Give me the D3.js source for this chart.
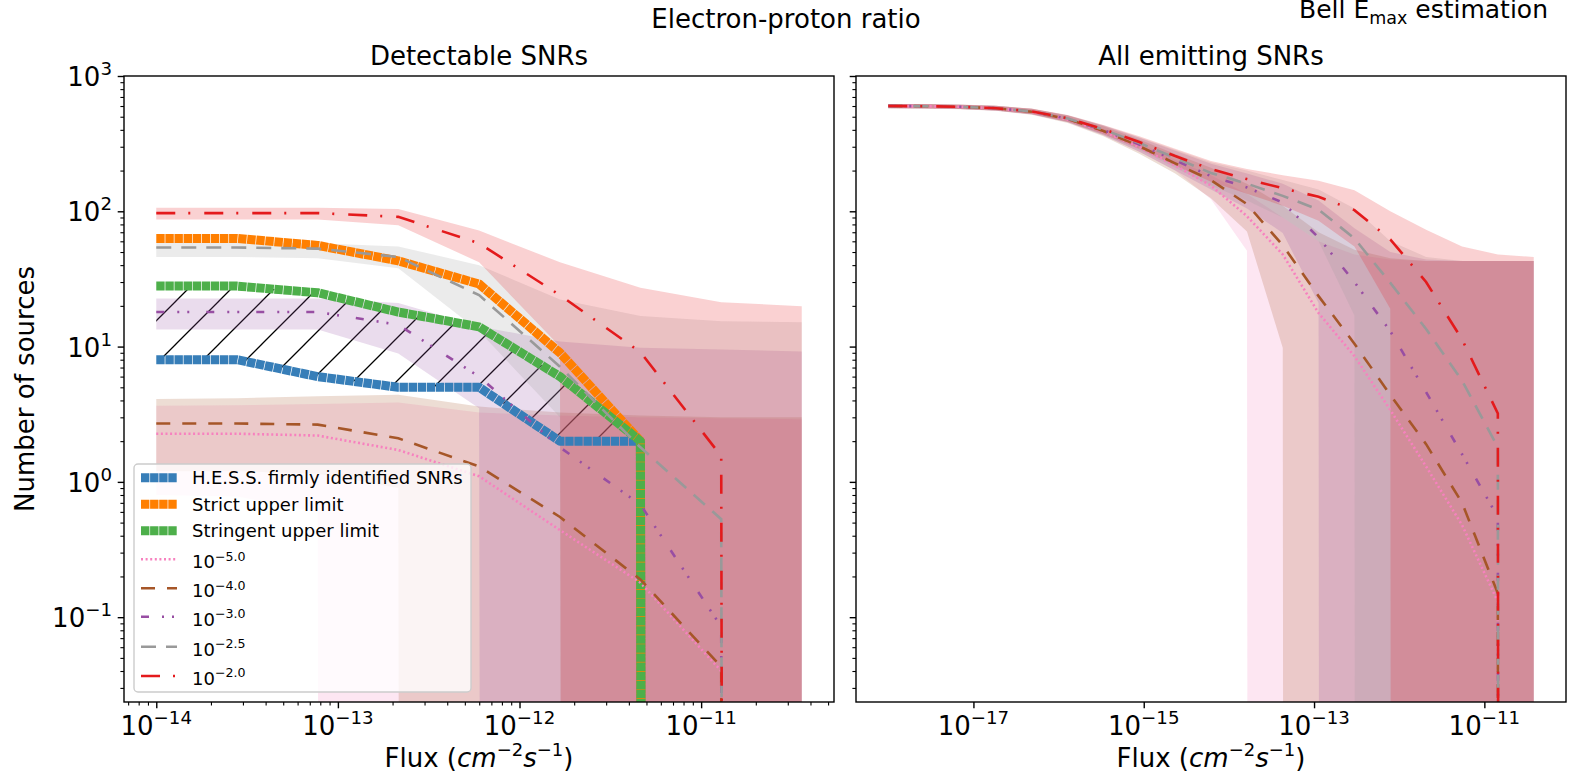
<!DOCTYPE html>
<html>
<head>
<meta charset="utf-8">
<script src="https://cdn.jsdelivr.net/npm/d3@7"></script>
<style>
body { margin: 0; background: #fff; }
text { font-family: "DejaVu Sans", sans-serif; fill: #000; }
</style>
</head>
<body>
<svg id="chart" width="1572" height="776"></svg>
<script>
// ---- data: detectable SNRs (left panel) ----
var fluxLeft = [1.00e-14, 2.78e-14, 7.74e-14, 2.15e-13, 5.99e-13, 1.67e-12, 4.63e-12, 1.29e-11, 3.58e-11];
var hess = [8, 8, 6, 5, 5, 2, 2, 0, 0];
var strictUL = [63, 63, 56, 43, 29, 9, 2, 0, 0];
var stringentUL = [28, 28, 25, 18, 14, 6, 2, 0, 0];

// model order: 1e-5, 1e-4, 1e-3, 1e-2.5, 1e-2
var detMean = [
  [2.27, 2.27, 2.2, 1.72, 1.1, 0.44, 0.18, 0.04, 0],
  [2.7, 2.7, 2.65, 2.1, 1.3, 0.55, 0.19, 0.043, 0],
  [18, 18, 18, 14.5, 6.0, 1.8, 0.68, 0.085, 0],
  [54, 54, 53, 46, 24, 7.1, 1.8, 0.53, 0],
  [97, 97, 97, 91, 58, 24, 9.1, 1.55, 0]
];
var detLow = [
  [0.8, 0.78, 0.6, 0, 0, 0, 0, 0, 0],
  [1.2, 1.2, 1.15, 0.9, 0, 0, 0, 0, 0],
  [13.4, 13.4, 13.4, 8.9, 3.5, 0, 0, 0, 0],
  [46, 46, 45, 38, 13, 3, 0, 0, 0],
  [87, 87, 87, 79, 42, 10, 0, 0, 0]
];
var detHigh = [
  [3.65, 3.68, 3.77, 3.86, 3.25, 3.1, 3.0, 2.95, 2.9],
  [4.1, 4.15, 4.3, 4.4, 3.6, 3.25, 3.1, 3.0, 3.0],
  [22.7, 22.7, 22.7, 21, 14.1, 10.9, 9.8, 9.5, 9.2],
  [58.6, 58.6, 58, 55, 40, 22.3, 16.8, 15.4, 15.1],
  [106, 106, 106, 104, 72, 42, 27.2, 21.3, 19.9]
];

// ---- data: all emitting SNRs (right panel) ----
var fluxRight = [1.00e-18, 2.64e-18, 6.96e-18, 1.84e-17, 4.84e-17, 1.28e-16, 3.36e-16, 8.87e-16, 2.34e-15,
  6.16e-15, 1.63e-14, 4.29e-14, 1.13e-13, 2.98e-13, 7.86e-13, 2.07e-12, 5.47e-12, 1.44e-11, 3.80e-11];
var allMean = [
  [600, 598, 592, 578, 544, 478, 388, 298, 218, 155, 92, 48, 17.7, 8.5, 3.4, 1.3, 0.48, 0.13, 0],
  [600, 598, 592, 578, 545, 480, 392, 303, 226, 170, 113, 56, 23.6, 10.5, 4.4, 1.9, 0.7, 0.15, 0],
  [600, 598, 592, 578, 546, 483, 398, 312, 238, 182, 150, 116, 64, 30, 13, 4.6, 1.6, 0.55, 0],
  [600, 598, 592, 578, 547, 485, 402, 320, 248, 192, 160, 130, 103, 63, 29.6, 13.5, 5.6, 1.8, 0],
  [600, 598, 592, 578, 548, 487, 405, 325, 256, 205, 173, 148, 128, 102, 62, 30, 11.3, 3.2, 0]
];
var allLow = [
  [580, 578, 571, 556, 522, 455, 365, 275, 200, 123, 51, 0, 0, 0, 0, 0, 0, 0, 0],
  [578, 576, 569, 553, 518, 450, 358, 266, 190, 125, 71, 9.8, 0, 0, 0, 0, 0, 0, 0],
  [578, 576, 570, 554, 520, 455, 365, 275, 200, 145, 105, 69, 21, 0, 0, 0, 0, 0, 0],
  [578, 576, 570, 555, 522, 458, 370, 285, 210, 155, 120, 90, 60, 17, 0, 0, 0, 0, 0],
  [578, 576, 570, 556, 524, 460, 373, 290, 218, 165, 135, 110, 85, 55, 19, 0, 0, 0, 0]
];
var allHigh = [
  [620, 618, 612, 600, 566, 500, 410, 320, 240, 185, 135, 90, 60, 48, 44, 43, 43, 43, 43],
  [622, 620, 615, 603, 572, 510, 425, 340, 265, 210, 160, 110, 70, 52, 45, 43, 43, 43, 43],
  [622, 620, 614, 602, 572, 512, 430, 350, 280, 225, 190, 160, 120, 75, 50, 44, 43, 43, 43],
  [622, 620, 614, 602, 573, 513, 432, 352, 285, 230, 200, 170, 145, 105, 60, 46, 43, 43, 43],
  [622, 620, 614, 602, 574, 515, 435, 358, 290, 235, 205, 185, 168, 143, 100, 73, 55, 48, 46]
];

var ratioLabels = ["\u22125.0", "\u22124.0", "\u22123.0", "\u22122.5", "\u22122.0"];
var modelColors = ["#f781bf", "#a65628", "#984ea3", "#999999", "#e41a1c"];
var modelDashes = ["2,2.6", "14,12", "8,13,2,8,2,17", "15,10", "19,13,2,14"];
var obsNames = ["H.E.S.S. firmly identified SNRs", "Strict upper limit", "Stringent upper limit"];
var obsColors = ["#377eb8", "#ff7f00", "#4daf4a"];

var svg = d3.select("#chart");
var axTop = 76, axBottom = 702;
var yMin = Math.pow(10, -1.627);

var y = d3.scaleLog().domain([yMin, 1000]).range([axBottom, axTop]);
function yy(v) { return v > 0 ? y(v) : y(1e-300); }

function paddedDomain(arr) {
  var a = Math.log10(d3.min(arr)), b = Math.log10(d3.max(arr)), m = (b - a) * 0.05;
  return [Math.pow(10, a - m), Math.pow(10, b + m)];
}

function powLabel(g, px, py, anchor, exp, size) {
  var t = g.append("text").attr("x", px).attr("y", py)
    .attr("text-anchor", anchor).style("font-size", size + "px");
  t.append("tspan").text("10");
  t.append("tspan").attr("dy", -0.42 * size).style("font-size", (size * 0.7) + "px").text(exp);
  return t;
}

function minorTicks(dom) {
  var out = [];
  var lo = Math.floor(Math.log10(dom[0])), hi = Math.ceil(Math.log10(dom[1]));
  for (var e = lo; e <= hi; e++) {
    for (var m = 2; m <= 9; m++) {
      var v = m * Math.pow(10, e);
      if (v >= dom[0] && v <= dom[1]) out.push(v);
    }
  }
  return out;
}

function styleAxis(g, w) {
  g.select(".domain").remove();
  g.selectAll("line").attr("stroke", "#000").attr("stroke-width", w);
}

function drawPanel(opt) {
  var x = d3.scaleLog().domain(paddedDomain(opt.flux)).range([opt.x0, opt.x1]);
  var g = svg.append("g");
  var clipId = "clip" + opt.id;
  svg.append("clipPath").attr("id", clipId).append("rect")
    .attr("x", opt.x0).attr("y", axTop).attr("width", opt.x1 - opt.x0).attr("height", axBottom - axTop);
  var plot = g.append("g").attr("clip-path", "url(#" + clipId + ")");

  var area = d3.area()
    .x(function (d) { return x(d.f); })
    .y0(function (d) { return yy(d.lo); })
    .y1(function (d) { return yy(d.hi); });
  var line = d3.line()
    .x(function (d) { return x(d.f); })
    .y(function (d) { return yy(d.v); });

  // hatched region between H.E.S.S. and stringent limit
  if (opt.obs) {
    var hatchData = opt.flux.map(function (f, i) { return { f: f, lo: hess[i], hi: stringentUL[i] }; });
    plot.append("path").attr("d", area(hatchData)).attr("fill", "url(#hatch)").attr("stroke", "none");
  }

  // shaded bands
  modelColors.forEach(function (c, k) {
    var d = opt.flux.map(function (f, i) { return { f: f, lo: opt.low[k][i], hi: opt.high[k][i] }; });
    plot.append("path").attr("d", area(d)).attr("fill", c).attr("fill-opacity", 0.2).attr("stroke", "none");
  });

  // observed thick lines
  if (opt.obs) {
    [hess, strictUL, stringentUL].forEach(function (arr, k) {
      var d = opt.flux.map(function (f, i) { return { f: f, v: arr[i] }; });
      plot.append("path").attr("d", line(d)).attr("fill", "none")
        .attr("stroke", obsColors[k]).attr("stroke-width", 9)
        .attr("stroke-dasharray", "8.4,0.7").attr("stroke-linejoin", "round");
    });
  }

  // model lines
  modelColors.forEach(function (c, k) {
    var d = opt.flux.map(function (f, i) { return { f: f, v: opt.mean[k][i] }; });
    plot.append("path").attr("d", line(d)).attr("fill", "none")
      .attr("stroke", c).attr("stroke-width", 2.6)
      .attr("stroke-dasharray", modelDashes[k]);
  });

  // axes
  var xg = g.append("g").attr("transform", "translate(0," + axBottom + ")");
  var majorX = opt.xTicks.map(function (e) { return Math.pow(10, e); });
  xg.call(d3.axisBottom(x).tickValues(majorX).tickSize(6.3).tickFormat(""));
  styleAxis(xg, 1.4);
  if (opt.minorX) {
    var xm = g.append("g").attr("transform", "translate(0," + axBottom + ")");
    xm.call(d3.axisBottom(x).tickValues(minorTicks(x.domain())).tickSize(3.6).tickFormat(""));
    styleAxis(xm, 1.1);
  }
  opt.xTicks.forEach(function (e) {
    powLabel(g, x(Math.pow(10, e)), 735, "middle", "\u2212" + Math.abs(e), 26);
  });

  var yg = g.append("g").attr("transform", "translate(" + opt.x0 + ",0)");
  yg.call(d3.axisLeft(y).tickValues([0.1, 1, 10, 100, 1000]).tickSize(6.3).tickFormat(""));
  styleAxis(yg, 1.4);
  var ym = g.append("g").attr("transform", "translate(" + opt.x0 + ",0)");
  ym.call(d3.axisLeft(y).tickValues(minorTicks(y.domain())).tickSize(3.6).tickFormat(""));
  styleAxis(ym, 1.1);
  if (opt.yLabels) {
    [-1, 0, 1, 2, 3].forEach(function (e) {
      powLabel(g, opt.x0 - 12, y(Math.pow(10, e)) + 10, "end", e < 0 ? "\u2212" + Math.abs(e) : String(e), 26);
    });
  }

  g.append("rect").attr("x", opt.x0).attr("y", axTop)
    .attr("width", opt.x1 - opt.x0).attr("height", axBottom - axTop)
    .attr("fill", "none").attr("stroke", "#000").attr("stroke-width", 1.4);

  var cx = (opt.x0 + opt.x1) / 2;
  g.append("text").attr("x", cx).attr("y", 65).attr("text-anchor", "middle")
    .style("font-size", "26px").text(opt.title);

  var xl = g.append("text").attr("x", cx).attr("y", 767).attr("text-anchor", "middle").style("font-size", "26px");
  xl.append("tspan").text("Flux (");
  xl.append("tspan").style("font-style", "italic").text("cm");
  xl.append("tspan").attr("dy", -11).style("font-size", "18px").text("\u22122");
  xl.append("tspan").attr("dy", 11).style("font-style", "italic").text("s");
  xl.append("tspan").attr("dy", -11).style("font-size", "18px").text("\u22121");
  xl.append("tspan").attr("dy", 11).text(")");
  return g;
}

// hatch pattern
var defs = svg.append("defs");
var pat = defs.append("pattern").attr("id", "hatch").attr("patternUnits", "userSpaceOnUse")
  .attr("width", 43).attr("height", 43).attr("patternTransform", "translate(4,0)");
pat.append("path").attr("d", "M-4,4 L4,-4 M0,43 L43,0 M39,47 L47,39")
  .attr("stroke", "#000").attr("stroke-width", 1.3);

drawPanel({
  id: "L", x0: 124, x1: 834, flux: fluxLeft, mean: detMean, low: detLow, high: detHigh,
  obs: true, xTicks: [-14, -13, -12, -11], minorX: true, yLabels: true, title: "Detectable SNRs"
});
drawPanel({
  id: "R", x0: 856, x1: 1566, flux: fluxRight, mean: allMean, low: allLow, high: allHigh,
  obs: false, xTicks: [-17, -15, -13, -11], minorX: false, yLabels: false, title: "All emitting SNRs"
});

// y label and figure texts
svg.append("text").attr("transform", "translate(34,389) rotate(-90)").attr("text-anchor", "middle")
  .style("font-size", "26px").text("Number of sources");
svg.append("text").attr("x", 786).attr("y", 28).attr("text-anchor", "middle")
  .style("font-size", "26px").text("Electron-proton ratio");
var bell = svg.append("text").attr("x", 1548).attr("y", 18).attr("text-anchor", "end").style("font-size", "25px");
bell.append("tspan").text("Bell E");
bell.append("tspan").attr("dy", 6).style("font-size", "17.5px").text("max");
bell.append("tspan").attr("dy", -6).text(" estimation");

// legend
var lg = svg.append("g");
lg.append("rect").attr("x", 134).attr("y", 464).attr("width", 337).attr("height", 228).attr("rx", 4)
  .attr("fill", "#fff").attr("fill-opacity", 0.8).attr("stroke", "#ccc").attr("stroke-width", 1.4);
var rowY = [477.7, 504.3, 530.7, 559.3, 588.3, 616.7, 646.7, 676];
obsNames.forEach(function (n, k) {
  lg.append("line").attr("x1", 141).attr("x2", 177).attr("y1", rowY[k]).attr("y2", rowY[k])
    .attr("stroke", obsColors[k]).attr("stroke-width", 9).attr("stroke-dasharray", "8.4,0.7");
  lg.append("text").attr("x", 192).attr("y", rowY[k] + 6.5).style("font-size", "18px").text(n);
});
ratioLabels.forEach(function (r, k) {
  var ly = rowY[k + 3];
  lg.append("line").attr("x1", 141).attr("x2", 177).attr("y1", ly).attr("y2", ly)
    .attr("stroke", modelColors[k]).attr("stroke-width", 2.6).attr("stroke-dasharray", modelDashes[k]);
  powLabel(lg, 192, ly + 9, "start", r, 18);
});
</script>
</body>
</html>
